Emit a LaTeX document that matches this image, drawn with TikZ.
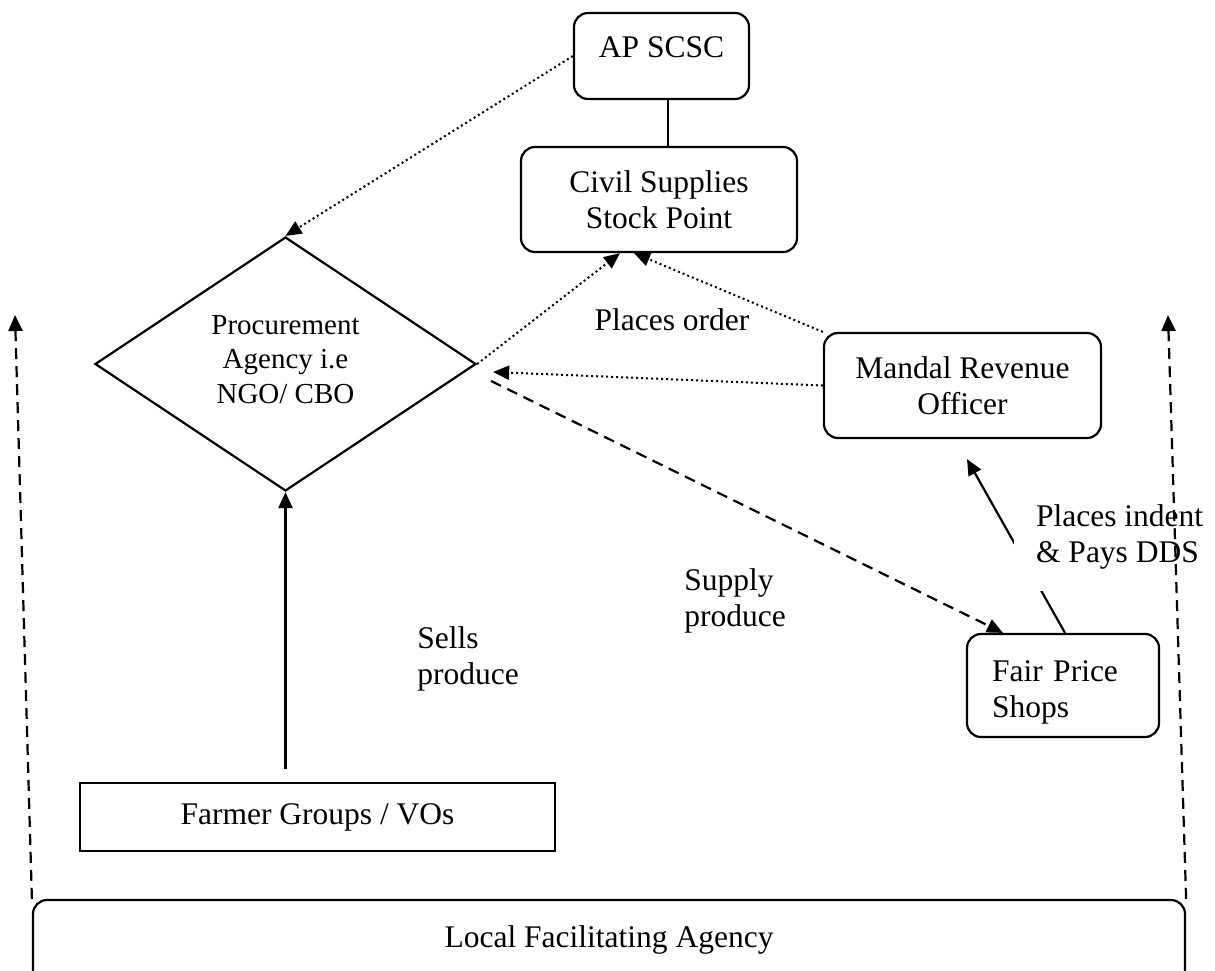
\documentclass[tikz,border=0pt]{standalone}
\usepackage{fontspec}
\setmainfont{Liberation Serif}
\usetikzlibrary{shapes.geometric,arrows.meta}

\begin{document}
\begin{tikzpicture}[x=1pt, y=-1pt, line width=2.2pt,
  every node/.style={font=\fontsize{31.5}{36}\selectfont, align=center},
  rbox/.style={draw, rounded corners=14pt, inner sep=0pt},
  arr/.style={-{Triangle[length=16pt,width=14pt]}},
  dotline/.style={line width=2pt, dash pattern=on 2pt off 3pt},
  dashline/.style={dash pattern=on 11pt off 7pt}]
\useasboundingbox (0,0) rectangle (1215,970);
% boxes
\node[rbox, minimum width=175pt, minimum height=86pt, text depth=18pt] (apscsc) at (661.5,56) {AP SCSC};
\node[rbox, minimum width=276pt, minimum height=105pt] (stock) at (659,199.5) {Civil Supplies\\Stock Point};
\node[draw, diamond, aspect=1.5, minimum width=381pt, minimum height=254pt, inner sep=0pt, text depth=10pt,
  font=\fontsize{29}{34.5}\selectfont] (proc) at (285.5,364) {Procurement\\Agency i.e\\NGO/ CBO};
\node[rbox, minimum width=277pt, minimum height=105pt] (mro) at (962.5,385.5) {Mandal Revenue\\Officer};
\node[rbox, minimum height=103pt, text width=142pt, text height=34pt, inner xsep=25pt, align=left] (fps) at (1063,685.5) {Fair Price\\Shops};
\node[draw, minimum width=475pt, minimum height=68pt] (farmer) at (317.5,817) {Farmer Groups / VOs};
\node[rbox, minimum width=1152pt, minimum height=85pt, text depth=11pt] (lfa) at (609,942.5) {Local Facilitating Agency};
% labels
\node (order) at (672,320) {Places order};
\node[anchor=west, align=left] (supply) at (680,601) {Supply\\produce};
\node[anchor=west, align=left] (sells) at (413,659) {Sells\\produce};
% AP SCSC to stock point
\draw ([xshift=6.5pt]apscsc.south) -- ([xshift=9pt]stock.north);
% dotted arrows
\draw[dotline, arr] (apscsc.west) -- (proc.north);
\draw[dotline, arr] (proc.east) -- ([xshift=-39pt]stock.south);
\draw[dotline, arr] (mro.north west) -- ([xshift=-25pt]stock.south);
\draw[dotline, arr] (mro.west) -- ([xshift=16pt,yshift=-8pt]proc.east);
% supply produce
\draw[dashline, arr] ([xshift=14pt,yshift=-17pt]proc.east) -- ([xshift=-60pt]fps.north);
% places indent
\draw[arr] ([xshift=2pt]fps.north) -- ([xshift=4.5pt,yshift=-20pt]mro.south);
\node[anchor=west, fill=white, inner sep=22pt, align=left] (indent) at (1013,537) {Places indent\\\& Pays DDS};
% sells produce
\draw[arr] ([xshift=-32pt,yshift=13pt]farmer.north) -- (proc.south);
% facilitating agency
\coordinate (lup) at (15,315);
\coordinate (rup) at (1168,315);
\draw[dashline, arr] (lfa.north west) -- (lup);
\draw[dashline, arr] (lfa.north east) -- (rup);
\end{tikzpicture}
\end{document}
